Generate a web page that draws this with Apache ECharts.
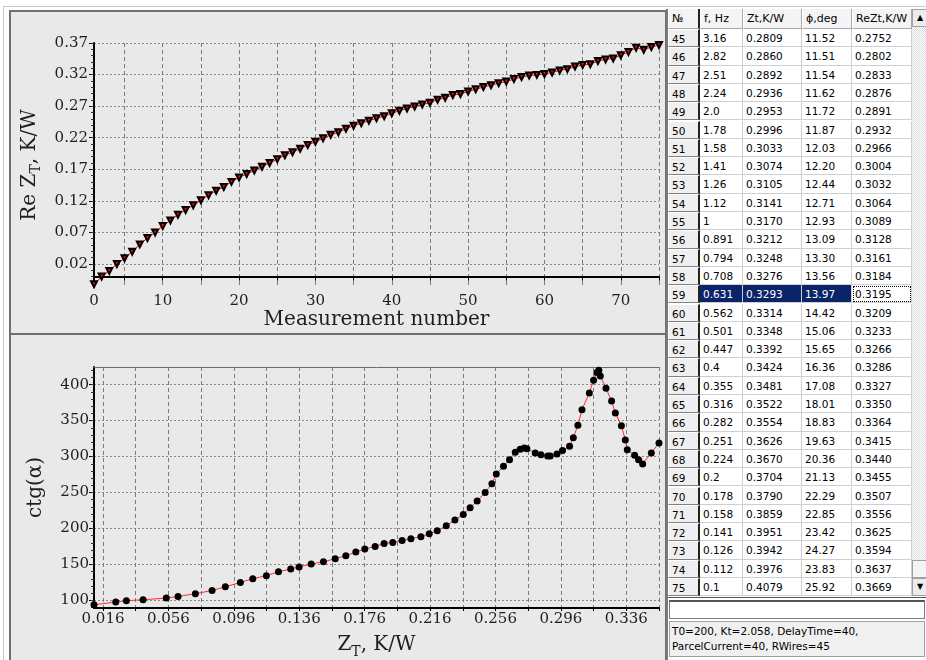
<!DOCTYPE html>
<html>
<head>
<meta charset="utf-8">
<script src="https://cdn.jsdelivr.net/npm/echarts@6/dist/echarts.min.js"></script>
<style>
  html, body { margin:0; padding:0; }
  body { width:926px; height:660px; overflow:hidden; background:#fff; position:relative; font-family:"DejaVu Sans", sans-serif; }
  .frame { position:absolute; left:3px; top:6px; width:940px; height:700px; border-top:1px solid #c9c9c9; border-left:1px solid #c9c9c9; }
  .panel { position:absolute; box-sizing:border-box; background:#e9e9e9; border:2px solid #6f6f6f; }
  #chart { position:absolute; left:0; top:0; width:926px; height:660px; }
  #tbl { position:absolute; left:666px; top:9px; width:260px; height:651px; background:#fff; border-left:2px solid #7a7a7a; box-sizing:border-box; overflow:hidden; }
  .cell { position:absolute; box-sizing:border-box; font-size:10.5px; color:#000; white-space:nowrap; overflow:hidden; padding-left:3px; border-right:1px solid #cfcfcf; border-bottom:1px solid #cfcfcf; }
  .hdr { background:#f4f4f4; border-right:1px solid #a8a8a8; border-bottom:1px solid #a8a8a8; border-left:1px solid #fff; font-size:11px; }
  .rh { background:#efefef; border-right:1px solid #808080; border-bottom:1px solid #808080; border-left:1px solid #fff; border-top:1px solid #fff; }
  .sel { background:#0a246a; color:#fff; }
  .foc { outline:1px dotted #000; outline-offset:-2px; }
</style>
</head>
<body>
<div class="frame"></div>
<div class="panel" style="left:9px;top:10px;width:658px;height:325px;"></div>
<div class="panel" style="left:9px;top:333px;width:658px;height:340px;"></div>
<div id="chart"></div>
<div id="tbl"></div>
<script>
// ---------------- data ----------------
const measNum = [1,2,3,4,5,6,7,8,9,10,11,12,13,14,15,16,17,18,19,20,21,22,23,24,25,26,27,28,29,30,31,32,33,34,35,36,37,38,39,40,41,42,43,44,45,46,47,48,49,50,51,52,53,54,55,56,57,58,59,60,61,62,63,64,65,66,67,68,69,70,71,72,73,74,75];
const reZt = [-0.012,0.000,0.009,0.020,0.029,0.0395,0.051,0.061,0.070,0.080,0.089,0.098,0.1055,0.113,0.121,0.129,0.136,0.142,0.150,0.157,0.1625,0.168,0.174,0.180,0.186,0.192,0.197,0.2025,0.2085,0.2135,0.219,0.2245,0.2285,0.234,0.239,0.243,0.247,0.2507,0.2541,0.2588,0.2626,0.2663,0.2694,0.2726,
  0.2752,0.2802,0.2833,0.2876,0.2891,0.2932,0.2966,0.3004,0.3032,0.3064,0.3089,0.3128,0.3161,0.3184,0.3195,0.3209,0.3233,0.3266,0.3286,0.3327,0.3350,0.3364,0.3415,0.3440,0.3455,0.3507,0.3556,0.3625,0.3594,0.3637,0.3669];

const ctgX = [0.0105,0.0238,0.0303,0.0405,0.0547,0.0619,0.0725,0.0827,0.0908,0.1000,0.1076,0.1159,0.1233,0.1308,0.1359,0.1433,0.1508,0.1580,0.1645,0.1706,0.1761,0.1824,0.1879,0.1932,0.1989,0.2043,0.2104,0.2155,0.2204,0.2259,0.2312,0.2363,0.2405,0.2448,0.2497,0.2538,0.2565,0.2609,0.2646,0.2681,0.2711,0.2736,0.2752,0.2803,0.2838,0.2879,0.2895,0.2936,0.2970,0.3013,0.3036,0.3064,0.3089,0.3134,0.3160,0.3180,0.3192,0.3201,0.3236,0.3270,0.3293,0.3330,0.3354,0.3366,0.3411,0.3435,0.3460,0.3513,0.3560];
const ctgY = [94.0,97.8,99.6,101.0,103.3,105.6,109.3,113.9,119.0,125.0,130.2,134.4,139.9,143.7,146.5,150.6,153.8,158.0,162.2,167.3,171.5,175.1,179.3,180.7,183.5,185.8,188.6,192.8,196.9,203.9,211.8,219.6,228.9,238.2,250.2,262.3,275.8,286.4,295.7,306.0,310.0,312.0,311.0,305.0,302.6,300.8,300.8,303.6,308.6,314.2,326.3,343.4,365.2,388.5,406.0,417.0,420.0,412.0,394.9,377.3,360.6,343.0,323.1,309.6,301.7,295.7,289.7,305.0,318.9];

// axis ticks / labels
const topXTicks = [5,10,15,20,25,30,35,40,45,50,55,60,65,70,75];
const topXLabelVals = [1,10,20,30,40,50,60,70];
const topXLabelText = ['0','10','20','30','40','50','60','70'];
const topYTicks = [0.02,0.07,0.12,0.17,0.22,0.27,0.32,0.37];
const topYMinor = [-0.01,0.00,0.01,0.02,0.03,0.04,0.05,0.06,0.07,0.08,0.09,0.10,0.11,0.12,0.13,0.14,0.15,0.16,0.17,0.18,0.19,0.20,0.21,0.22,0.23,0.24,0.25,0.26,0.27,0.28,0.29,0.30,0.31,0.32,0.33,0.34,0.35,0.36,0.37];
const botXTicks = [0.016,0.036,0.056,0.076,0.096,0.116,0.136,0.156,0.176,0.196,0.216,0.236,0.256,0.276,0.296,0.316,0.336,0.356];
const botXLabels = [0.016,0.056,0.096,0.136,0.176,0.216,0.256,0.296,0.336];
const botYTicks = [100,150,200,250,300,350,400];
const botYMinor = [90,100,110,120,130,140,150,160,170,180,190,200,210,220,230,240,250,260,270,280,290,300,310,320,330,340,350,360,370,380,390,400,410,420];

// table
const tblNo = [45,46,47,48,49,50,51,52,53,54,55,56,57,58,59,60,61,62,63,64,65,66,67,68,69,70,71,72,73,74,75];
const tblF = ['3.16','2.82','2.51','2.24','2.0','1.78','1.58','1.41','1.26','1.12','1','0.891','0.794','0.708','0.631','0.562','0.501','0.447','0.4','0.355','0.316','0.282','0.251','0.224','0.2','0.178','0.158','0.141','0.126','0.112','0.1'];
const tblZt = [0.2809,0.2860,0.2892,0.2936,0.2953,0.2996,0.3033,0.3074,0.3105,0.3141,0.3170,0.3212,0.3248,0.3276,0.3293,0.3314,0.3348,0.3392,0.3424,0.3481,0.3522,0.3554,0.3626,0.3670,0.3704,0.3790,0.3859,0.3951,0.3942,0.3976,0.4079];
const tblPhi = [11.52,11.51,11.54,11.62,11.72,11.87,12.03,12.20,12.44,12.71,12.93,13.09,13.30,13.56,13.97,14.42,15.06,15.65,16.36,17.08,18.01,18.83,19.63,20.36,21.13,22.29,22.85,23.42,24.27,23.83,25.92];
const tblHeaders = ['№','f, Hz','Zt,K/W','ϕ,deg','ReZt,K/W'];
const selectedNo = 59;
const statusLines = ['T0=200, Kt=2.058, DelayTime=40,','ParcelCurrent=40, RWires=45'];

// ---------------- chart ----------------
const SERIF = 'DejaVu Serif';
const labelColor = '#1e1e1e';
const chart = echarts.init(document.getElementById('chart'), null, {renderer:'canvas'});

function fmtIdx(vals, texts){ return v => { const i = vals.findIndex(x => Math.abs(x - v) < 1e-9); return i >= 0 ? texts[i] : ''; }; }
const subRich = {
  a: {fontFamily: SERIF, fontSize: 20, color: labelColor, verticalAlign: 'top'},
  b: {fontFamily: SERIF, fontSize: 14, color: labelColor, verticalAlign: 'top', padding: [10, 0, 0, 0]}
};

const option = {
  animation: false,
  backgroundColor: 'transparent',
  grid: [
    {left: 94, top: 43, width: 565, height: 244, show: false},
    {left: 94, top: 367, width: 565, height: 241, show: false}
  ],
  xAxis: [
    { // top chart
      gridIndex: 0, type: 'value', min: 1, max: 75,
      axisLine: {lineStyle: {color: '#000', width: 2}},
      axisTick: {customValues: topXTicks, length: 4, lineStyle: {color: '#000'}},
      axisLabel: {customValues: topXLabelVals, formatter: fmtIdx(topXLabelVals, topXLabelText), margin: 7, fontFamily: SERIF, fontSize: 15, color: labelColor},
      splitLine: {show: true, lineStyle: {type: [4,3], color: '#7a7a7a', width: 1}},
      name: 'Measurement number', nameLocation: 'middle', nameGap: 23,
      nameTextStyle: {fontFamily: SERIF, fontSize: 20, color: labelColor}
    },
    { // bottom chart
      gridIndex: 1, type: 'value', min: 0.0105, max: 0.356,
      axisLine: {lineStyle: {color: '#000', width: 2}},
      axisTick: {customValues: botXTicks, length: 3, lineStyle: {color: '#000'}},
      axisLabel: {customValues: botXLabels, formatter: v => v.toFixed(3), margin: 4, fontFamily: SERIF, fontSize: 15, color: labelColor},
      splitLine: {show: true, lineStyle: {type: [4,3], color: '#7a7a7a', width: 1}},
      name: '{a|Z}{b|T}{a|, K/W}', nameLocation: 'middle', nameGap: 27,
      nameTextStyle: {fontFamily: SERIF, fontSize: 20, color: labelColor, rich: subRich}
    },
    { // bottom chart top border
      gridIndex: 1, type: 'value', min: 0.0105, max: 0.356, position: 'top',
      axisLine: {lineStyle: {color: '#6a6a6a', width: 1}},
      axisTick: {show: false}, axisLabel: {show: false}, splitLine: {show: false}
    }
  ],
  yAxis: [
    { // top main
      gridIndex: 0, type: 'value', min: -0.0165, max: 0.37,
      axisLine: {show: true, lineStyle: {color: '#000', width: 2}},
      axisTick: {show: true, customValues: topYTicks, length: 5, lineStyle: {color: '#000'}},
      axisLabel: {customValues: topYTicks, formatter: v => v.toFixed(2), margin: 6, fontFamily: SERIF, fontSize: 15, color: labelColor},
      splitLine: {show: true, lineStyle: {type: [2,2], color: '#8a8a8a', width: 1}},
      name: '{a|Re Z}{b|T}{a|, K/W}', nameLocation: 'middle', nameGap: 28,
      nameTextStyle: {fontFamily: SERIF, fontSize: 20, color: labelColor, rich: subRich}
    },
    { // top minor ticks
      gridIndex: 0, type: 'value', min: -0.0165, max: 0.37, position: 'left',
      axisLine: {show: false},
      axisTick: {show: true, customValues: topYMinor, length: 3, lineStyle: {color: '#333'}},
      axisLabel: {show: false}, splitLine: {show: false}
    },
    { // bottom main
      gridIndex: 1, type: 'value', min: 89.5, max: 424.5,
      axisLine: {show: true, lineStyle: {color: '#000', width: 2}},
      axisTick: {show: true, customValues: botYTicks, length: 5, lineStyle: {color: '#000'}},
      axisLabel: {customValues: botYTicks, margin: 5, fontFamily: SERIF, fontSize: 15, color: labelColor},
      splitLine: {show: true, lineStyle: {type: [2,2], color: '#8a8a8a', width: 1}},
      name: 'ctg(α)', nameLocation: 'middle', nameGap: 48,
      nameTextStyle: {fontFamily: SERIF, fontSize: 20, color: labelColor}
    },
    { // bottom minor ticks
      gridIndex: 1, type: 'value', min: 89.5, max: 424.5, position: 'left',
      axisLine: {show: false},
      axisTick: {show: true, customValues: botYMinor, length: 3, lineStyle: {color: '#333'}},
      axisLabel: {show: false}, splitLine: {show: false}
    }
  ],
  series: [
    {
      type: 'line', xAxisIndex: 0, yAxisIndex: 0,
      data: measNum.map((m, i) => [m, reZt[i]]),
      lineStyle: {color: '#ff0000', width: 1},
      symbol: 'triangle', symbolRotate: 180, symbolSize: 6, showAllSymbol: true,
      itemStyle: {color: '#ff0000', borderColor: '#000', borderWidth: 2},
      clip: true, z: 5
    },
    {
      type: 'line', xAxisIndex: 1, yAxisIndex: 2,
      data: ctgX.map((x, i) => [x, ctgY[i]]),
      lineStyle: {color: '#ff2a2a', width: 1},
      symbol: 'circle', symbolSize: 7, showAllSymbol: true,
      itemStyle: {color: '#000', borderWidth: 0},
      clip: true, z: 5
    }
  ]
};
chart.setOption(option);

// ---------------- table ----------------
(function buildTable(){
  const t = document.getElementById('tbl');
  const colX = [0, 32, 75, 134, 184, 244];
  const hdrTop = 0, hdrH = 20, rowTop = 20, rowH = 18.3;
  let html = '';
  const mk = (cls, l, tp, w, h, txt, extra) =>
    `<div class="cell ${cls}" style="left:${l}px;top:${tp}px;width:${w}px;height:${h}px;line-height:${h}px;${extra||''}">${txt}</div>`;
  for (let c = 0; c < 5; c++) {
    html += mk('hdr', colX[c], hdrTop, colX[c+1]-colX[c], hdrH, tblHeaders[c], c===0 ? 'border-right:2px solid #222;' : '');
  }
  for (let r = 0; r < tblNo.length; r++) {
    const top = rowTop + r * rowH;
    const sel = tblNo[r] === selectedNo;
    const vals = [String(tblNo[r]), tblF[r], tblZt[r].toFixed(4), tblPhi[r].toFixed(2), reZt[tblNo[r]-1].toFixed(4)];
    for (let c = 0; c < 5; c++) {
      let cls = c === 0 ? 'rh' : '';
      if (sel && c >= 1 && c <= 3) cls += ' sel';
      if (sel && c === 4) cls += ' foc';
      html += mk(cls, colX[c], top, colX[c+1]-colX[c], rowH, vals[c], c===0 ? 'border-right:2px solid #222;' : '');
    }
  }
  const sbX = 244, sbW = 16, gridBottom = rowTop + tblNo.length * rowH;
  html += `<div style="position:absolute;left:${sbX}px;top:0;width:${sbW}px;height:${gridBottom}px;background-color:#fff;background-image:repeating-conic-gradient(#dcdcdc 0 25%, #fff 0 50%);background-size:2px 2px;"></div>`;
  html += `<div style="position:absolute;left:${sbX}px;top:0;width:${sbW}px;height:18px;box-sizing:border-box;background:#ececec;border:1px solid #a0a0a0;font-size:8px;line-height:16px;text-align:center;color:#000;">▲</div>`;
  html += `<div style="position:absolute;left:${sbX}px;top:${gridBottom-36}px;width:${sbW}px;height:18px;box-sizing:border-box;background:#f4f4f4;border:1px solid #a0a0a0;"></div>`;
  html += `<div style="position:absolute;left:${sbX}px;top:${gridBottom-18}px;width:${sbW}px;height:18px;box-sizing:border-box;background:#ececec;border:1px solid #a0a0a0;font-size:8px;line-height:16px;text-align:center;color:#000;">▼</div>`;
  html += `<div style="position:absolute;left:0;top:${gridBottom+1}px;width:260px;height:1px;background:#555;"></div>`;
  html += `<div style="position:absolute;left:1px;top:${gridBottom+4}px;width:256px;height:19px;box-sizing:border-box;background:#fff;border:1px solid #7a7a7a;border-top:2px solid #555;"></div>`;
  html += `<div style="position:absolute;left:1px;top:${gridBottom+25}px;width:256px;height:36px;box-sizing:border-box;background:#f0f0f0;border:1px solid #a0a0a0;padding:2px 0 0 2px;font-size:10.5px;line-height:15px;color:#000;white-space:nowrap;">${statusLines.join('<br>')}</div>`;
  t.innerHTML = html;
})();
</script>
</body>
</html>
